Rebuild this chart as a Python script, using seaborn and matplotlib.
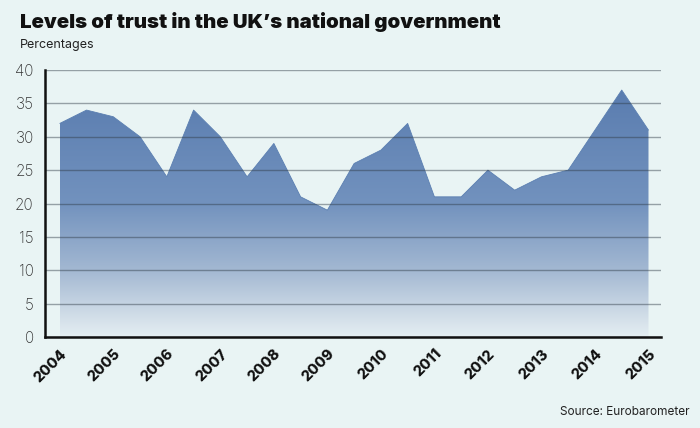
import numpy as np
import pandas as pd
import matplotlib
matplotlib.use("Agg")
import matplotlib.pyplot as plt
from matplotlib.colors import LinearSegmentedColormap
import seaborn as sns

years = [2004, 2004.5, 2005, 2005.5, 2006, 2006.5, 2007, 2007.5, 2008, 2008.5,
         2009, 2009.5, 2010, 2010.5, 2011, 2011.5, 2012, 2012.5, 2013, 2013.5,
         2014, 2014.5, 2015]
trust = [32, 34, 33, 30, 24, 34, 30, 24, 29, 21,
         19, 26, 28, 32, 21, 21, 25, 22, 24, 25,
         31, 37, 31]
tick_years = list(range(2004, 2016))
y_ticks = [0, 5, 10, 15, 20, 25, 30, 35, 40]

title = "Levels of trust in the UK\u2019s national government"
subtitle = "Percentages"
source = "Source: Eurobarometer"

bg = "#e9f4f4"
sns.set_theme(style="white", rc={"axes.facecolor": bg, "figure.facecolor": bg})
plt.rcParams["font.family"] = ["Inter", "DejaVu Sans"]

df = pd.DataFrame({"year": years, "trust": trust})

fig = plt.figure(figsize=(7, 4.28), dpi=100)
ax = fig.add_axes([0.064, 0.2126, 0.88, 0.6238])

sns.lineplot(data=df, x="year", y="trust", ax=ax, color="#5b7fb1", linewidth=0.6, zorder=2)
poly = ax.fill_between(df["year"], 0, df["trust"], color="none", linewidth=0)

cmap = LinearSegmentedColormap.from_list(
    "g", [(0.0, "#e5eef2"), (0.25, "#a3b8d2"), (0.5, "#7292be"), (1.0, "#5679ad")])
grad = np.linspace(0, 1, 256).reshape(-1, 1)
img = ax.imshow(grad, cmap=cmap, aspect="auto", origin="lower",
                extent=[min(years), max(years), 0, 40], zorder=1)
img.set_clip_path(poly.get_paths()[0], transform=ax.transData)

ax.set_xlim(2003.72, 2015.23)
ax.set_ylim(0, 40)
ax.set_xticks(tick_years)
ax.set_xticklabels([str(t) for t in tick_years], rotation=45, ha="right",
                   rotation_mode="anchor", fontweight="heavy", fontsize=10.5, color="#111111")
ax.set_yticks(y_ticks)
ax.set_yticklabels([str(t) for t in y_ticks], fontsize=11, color="#333333", fontweight="light")
ax.set_xlabel("")
ax.set_ylabel("")

ax.set_axisbelow(False)
ax.yaxis.grid(True, color="#2f3b45", alpha=0.45, linewidth=1.0)
ax.xaxis.grid(False)

for s in ["top", "right"]:
    ax.spines[s].set_visible(False)
for s in ["left", "bottom"]:
    ax.spines[s].set_visible(True)
    ax.spines[s].set_color("#111111")
    ax.spines[s].set_linewidth(1.8)
    ax.spines[s].set_zorder(4)

ax.tick_params(axis="x", direction="in", length=5, width=0.8, color="#888888", pad=7)
ax.tick_params(axis="y", length=0, pad=8)

fig.text(0.028, 0.935, title, fontsize=14.7, fontweight="black", color="#111111")
fig.text(0.028, 0.888, subtitle, fontsize=9, color="#222222")
fig.text(0.985, 0.03, source, fontsize=8.5, color="#222222", ha="right")

fig.savefig("out.png", dpi=100, facecolor=bg)
